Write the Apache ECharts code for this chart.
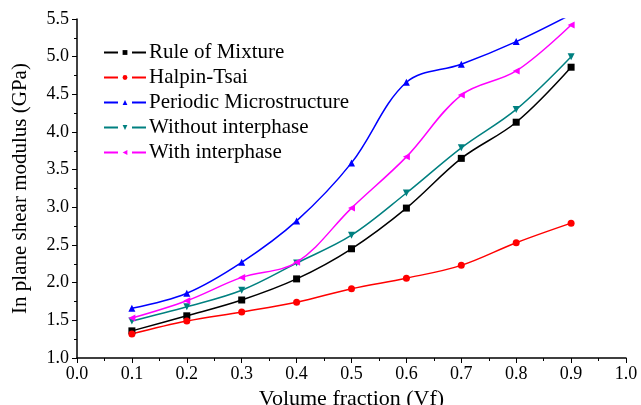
<!DOCTYPE html>
<html>
<head>
<meta charset="utf-8">
<script src="https://cdn.jsdelivr.net/npm/echarts@6/dist/echarts.min.js"></script>
<style>
	html, body { margin: 0; padding: 0; background: #fff; }
	#main { width: 641px; height: 405px; }
</style>
</head>
<body>
<div id="main"></div>
<script>
	// volume fraction
	var vf = [0.1, 0.2, 0.3, 0.4, 0.5, 0.6, 0.7, 0.8, 0.9];
	var ruleOfMixture = [1.36, 1.56, 1.77, 2.05, 2.45, 2.99, 3.65, 4.13, 4.86];
	var halpinTsai = [1.32, 1.49, 1.61, 1.74, 1.92, 2.06, 2.23, 2.53, 2.79];
	var periodic = [1.66, 1.86, 2.27, 2.82, 3.59, 4.66, 4.90, 5.20, 5.56];
	var withoutInterphase = [1.49, 1.68, 1.90, 2.26, 2.63, 3.19, 3.79, 4.30, 5.00];
	var withInterphase = [1.53, 1.76, 2.07, 2.27, 2.99, 3.67, 4.49, 4.81, 5.42];

	var font = "Liberation Serif";

	function pairs(ys) {
		var out = [];
		for (var i = 0; i < vf.length; i++) {
			out.push([vf[i], ys[i]]);
		}
		return out;
	}

	function makeSeries(name, ys, color, symbol, rotate) {
		return {
			name : name,
			type : 'line',
			data : pairs(ys),
			smooth : 0.35,
			clip : true,
			symbol : symbol,
			symbolSize : 7,
			symbolRotate : rotate || 0,
			lineStyle : { color : color, width : 1.5 },
			itemStyle : { color : color }
		};
	}

	var myChart = echarts.init(document.getElementById('main'));

	var option = {
		animation : false,
		backgroundColor : '#fff',
		grid : { left : 77, top : 19, right : 15, bottom : 47, outerBoundsMode : 'none' },
		legend : {
			orient : 'vertical',
			left : 98,
			top : 37,
			itemWidth : 42,
			itemHeight : 6,
			itemGap : 4,
			lineStyle : { type : [14, 14] },
			textStyle : { fontFamily : font, fontSize : 21, color : '#000', padding : [0, 0, 0, -2] },
			data : ['Rule of Mixture', 'Halpin-Tsai', 'Periodic Microstructure', 'Without interphase', 'With interphase']
		},
		xAxis : {
			type : 'value',
			min : 0,
			max : 1,
			interval : 0.1,
			name : 'Volume fraction (Vf)',
			nameLocation : 'middle',
			nameGap : 30,
			nameTextStyle : { fontFamily : font, fontSize : 22, color : '#000' },
			axisLine : { show : true, lineStyle : { color : '#000', width : 1.5 } },
			axisTick : { show : true, length : 5, lineStyle : { color : '#000' } },
			minorTick : { show : true, splitNumber : 2, length : 3, lineStyle : { color : '#000' } },
			splitLine : { show : false },
			axisLabel : {
				fontFamily : font, fontSize : 18, color : '#000', margin : 7,
				formatter : function(v) { return v.toFixed(1); }
			}
		},
		yAxis : {
			type : 'value',
			min : 1,
			max : 5.5,
			interval : 0.5,
			name : 'In plane shear modulus (GPa)',
			nameLocation : 'middle',
			nameGap : 46,
			nameTextStyle : { fontFamily : font, fontSize : 21, color : '#000' },
			axisLine : { show : true, lineStyle : { color : '#000', width : 1.5 } },
			axisTick : { show : true, length : 5, lineStyle : { color : '#000' } },
			minorTick : { show : true, splitNumber : 2, length : 3, lineStyle : { color : '#000' } },
			splitLine : { show : false },
			axisLabel : {
				fontFamily : font, fontSize : 18, color : '#000', margin : 8,
				formatter : function(v) { return v.toFixed(1); }
			}
		},
		series : [
			makeSeries('Rule of Mixture', ruleOfMixture, '#000000', 'rect'),
			makeSeries('Halpin-Tsai', halpinTsai, '#ff0000', 'circle'),
			makeSeries('Periodic Microstructure', periodic, '#0000ff', 'triangle'),
			makeSeries('Without interphase', withoutInterphase, '#008080', 'triangle', 180),
			makeSeries('With interphase', withInterphase, '#ff00ff', 'triangle', 90)
		]
	};

	myChart.setOption(option);
</script>
</body>
</html>
